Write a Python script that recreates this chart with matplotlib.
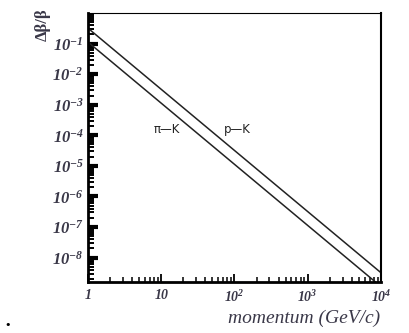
import numpy as np
import matplotlib
matplotlib.use("Agg")
import matplotlib.pyplot as plt
from matplotlib.ticker import LogLocator, FixedLocator, FixedFormatter, NullFormatter

plt.rcParams['mathtext.fontset'] = 'custom'
plt.rcParams['mathtext.rm'] = 'Liberation Serif:italic:bold'
plt.rcParams['mathtext.it'] = 'Liberation Serif:italic:bold'

# end points of the separation curves (straight lines in log-log)
momentum = [1.0, 1.0e4]
dbb_pi_k = [0.112, 1.12e-9]
dbb_p_k = [0.318, 3.18e-9]

x_ticks = [1, 10, 100, 1000, 10000]
x_labels = ['1', '10', '10$^{2}$', '10$^{3}$', '10$^{4}$']
y_ticks = [1e-1, 1e-2, 1e-3, 1e-4, 1e-5, 1e-6, 1e-7, 1e-8]
y_labels = ['10$^{-%d}$' % k for k in range(1, 9)]

lab_col = '#3a3848'

fig = plt.figure(figsize=(4.10, 3.33), dpi=100)
ax = fig.add_axes([88 / 410, 1 - 282 / 333, 293 / 410, 269 / 333])

ax.plot(momentum, dbb_pi_k, color='#222222', lw=1.1)
ax.plot(momentum, dbb_p_k, color='#222222', lw=1.1)

ax.set_xscale('log')
ax.set_yscale('log')
ax.set_xlim(1, 1e4)
ax.set_ylim(10 ** -8.8, 10 ** 0.0)

ax.xaxis.set_major_locator(FixedLocator(x_ticks))
ax.xaxis.set_major_formatter(FixedFormatter(x_labels))
ax.yaxis.set_major_locator(FixedLocator(y_ticks))
ax.yaxis.set_major_formatter(FixedFormatter(y_labels))
ax.xaxis.set_minor_locator(LogLocator(base=10, subs=np.arange(2, 10), numticks=20))
ax.yaxis.set_minor_locator(LogLocator(base=10, subs=np.arange(2, 10), numticks=20))
ax.xaxis.set_minor_formatter(NullFormatter())
ax.yaxis.set_minor_formatter(NullFormatter())

ax.tick_params(axis='y', which='major', direction='in', length=7, width=3,
               right=False, pad=3)
ax.tick_params(axis='y', which='minor', direction='in', length=4, width=1.4,
               right=False)
ax.tick_params(axis='x', which='major', direction='in', length=6, width=1.3,
               top=False, pad=5)
ax.tick_params(axis='x', which='minor', direction='in', length=3.5, width=1.1,
               top=False)

for lab in ax.get_xticklabels():
    lab.set_family('Liberation Serif')
    lab.set_style('italic')
    lab.set_weight('bold')
    lab.set_fontsize(10)
    lab.set_color(lab_col)
for lab in ax.get_yticklabels():
    lab.set_family('Liberation Serif')
    lab.set_style('italic')
    lab.set_weight('bold')
    lab.set_fontsize(12)
    lab.set_color(lab_col)

ax.spines['left'].set_linewidth(2.0)
ax.spines['bottom'].set_linewidth(2.0)
ax.spines['top'].set_linewidth(0.8)
ax.spines['right'].set_linewidth(1.5)

ax.text(12, 1.5e-4, 'π—K', fontsize=8.5, ha='center', va='center',
        family='DejaVu Sans', color='#222222')
ax.text(110, 1.5e-4, 'p—K', fontsize=8.5, ha='center', va='center',
        family='DejaVu Sans', color='#222222')

fig.text(43 / 410, 1 - 25 / 333, 'Δβ/β', rotation=90, ha='center', va='center',
         family='Liberation Serif', weight='bold', fontsize=12, color=lab_col)
fig.text(380 / 410, 1 - 318 / 333, 'momentum (GeV/c)', ha='right', va='center',
         family='Liberation Serif', style='italic', fontsize=14, color=lab_col)
fig.text(8 / 410, 1 - 325 / 333, '•', ha='center', va='center', fontsize=8,
         color='black')

fig.savefig('out.png', dpi=100)
